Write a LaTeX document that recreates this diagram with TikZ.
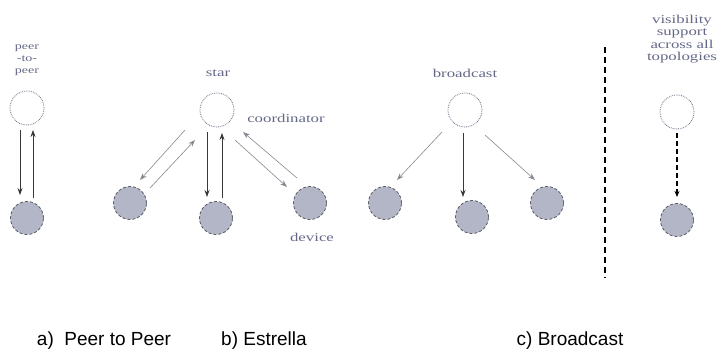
\documentclass[tikz,border=0pt]{standalone}
\usepackage{fontspec}
\setmainfont{Liberation Serif}
\newfontfamily\capfont{Liberation Sans}
\newfontfamily\lblfont[FakeStretch=1.4]{Liberation Serif}
\usetikzlibrary{arrows.meta, positioning, calc}

\definecolor{lbltxt}{RGB}{100,104,135}
\definecolor{devfill}{RGB}{178,182,198}
\definecolor{devline}{RGB}{90,92,102}
\definecolor{coordline}{RGB}{115,115,138}
\definecolor{thinarr}{RGB}{135,135,148}
\definecolor{darkarr}{RGB}{55,55,60}

\begin{document}
\begin{tikzpicture}[
  x=1pt, y=-1pt,
  >=Stealth,
  %-- node styles --------------------------------------------------------
  coordnode/.style = {draw=coordline, densely dotted, line width=0.8pt, circle,
                      fill=white, minimum size=34pt, inner sep=0pt},
  devnode/.style   = {draw=devline, densely dashed, line width=0.8pt, circle,
                      fill=devfill, minimum size=33pt, inner sep=0pt},
  toplab/.style    = {text=lbltxt, font=\lblfont\fontsize{12}{12.5}\selectfont,
                      align=center, inner sep=0pt},
  smalllab/.style  = {text=lbltxt, font=\lblfont\fontsize{10}{12}\selectfont,
                      align=center, inner sep=0pt},
  caption/.style   = {font=\capfont\fontsize{19}{22}\selectfont, inner sep=0pt},
  %-- connector styles ---------------------------------------------------
  darrow/.style    = {-{Stealth[length=7pt,width=5pt]}, darkarr, line width=0.8pt},
  larrow/.style    = {-{Stealth[length=7pt,width=5pt]}, thinarr, line width=0.6pt},
  dasharrow/.style = {-{Stealth[length=6pt,width=5pt]}, black, line width=1.2pt,
                      dash pattern=on 5pt off 3pt},
]
\useasboundingbox (0,0) rectangle (720,364);

% ── a) peer to peer ──────────────────────────────────────────────────────────
\node[smalllab] (peerlab) at (27,60) {peer\\-to-\\peer};
\node[coordnode] (P1) at (27,108) {};
\node[devnode]   (P2) at (27,218) {};

\draw[darrow] ([shift={(-7,22)}]P1.center) -- ([shift={(-7,-23)}]P2.center);
\draw[darrow] ([shift={(6,-20)}]P2.center) -- ([shift={(6,22)}]P1.center);

% ── b) star ──────────────────────────────────────────────────────────────────
\node[toplab] (starlab) at (218,73) {star};
\node[coordnode] (S) at (217,110) {};
\node[toplab] (coordlab) at (286,118) {coordinator};
\node[devnode] (SL) at (130,203) {};
\node[devnode] (SC) at (216,218) {};
\node[devnode] (SR) at (310,203) {};
\node[toplab] (devlab) at (312,237) {device};

\draw[larrow] ([shift={(-32,20)}]S.center) -- ([shift={(10,-23)}]SL.center);
\draw[larrow] ([shift={(20,-15)}]SL.center) -- ([shift={(-22,30)}]S.center);
\draw[darrow] ([shift={(-10,22)}]S.center) -- ([shift={(-9,-21)}]SC.center);
\draw[darrow] ([shift={(6,-20)}]SC.center) -- ([shift={(5,23)}]S.center);
\draw[larrow] ([shift={(18,30)}]S.center) -- ([shift={(-23,-16)}]SR.center);
\draw[larrow] ([shift={(-13,-25)}]SR.center) -- ([shift={(26,22)}]S.center);

% ── c) broadcast ─────────────────────────────────────────────────────────────
\node[toplab] (bclab) at (465,73) {broadcast};
\node[coordnode] (B) at (465,110) {};
\node[devnode] (BL) at (385,203) {};
\node[devnode] (BC) at (472,217) {};
\node[devnode] (BR) at (547,203) {};

\draw[larrow] ([shift={(-23,22)}]B.center) -- ([shift={(12,-23)}]BL.center);
\draw[darrow] ([shift={(-2,23)}]B.center) -- ([shift={(-9,-20)}]BC.center);
\draw[larrow] ([shift={(20,25)}]B.center) -- ([shift={(-12,-23)}]BR.center);

% ── separator + visibility ───────────────────────────────────────────────────
\coordinate (septop) at (605,47);
\coordinate (sepbot) at (605,278);
\draw[black, line width=1.3pt, dash pattern=on 6pt off 4pt] (septop) -- (sepbot);

\node[toplab] (vislab) at (682,39) {visibility\\support\\across all\\topologies};
\node[coordnode] (V1) at (677,112) {};
\node[devnode]   (V2) at (677,220) {};
\draw[dasharrow] ([yshift=-21pt]V1.center) -- ([yshift=23pt]V2.center);

% ── captions ─────────────────────────────────────────────────────────────────
\node[caption] (capa) at (104,341) {a)\ \ Peer to Peer};
\node[caption] (capb) at (264,341) {b) Estrella};
\node[caption] (capc) at (570,341) {c) Broadcast};

\end{tikzpicture}
\end{document}
